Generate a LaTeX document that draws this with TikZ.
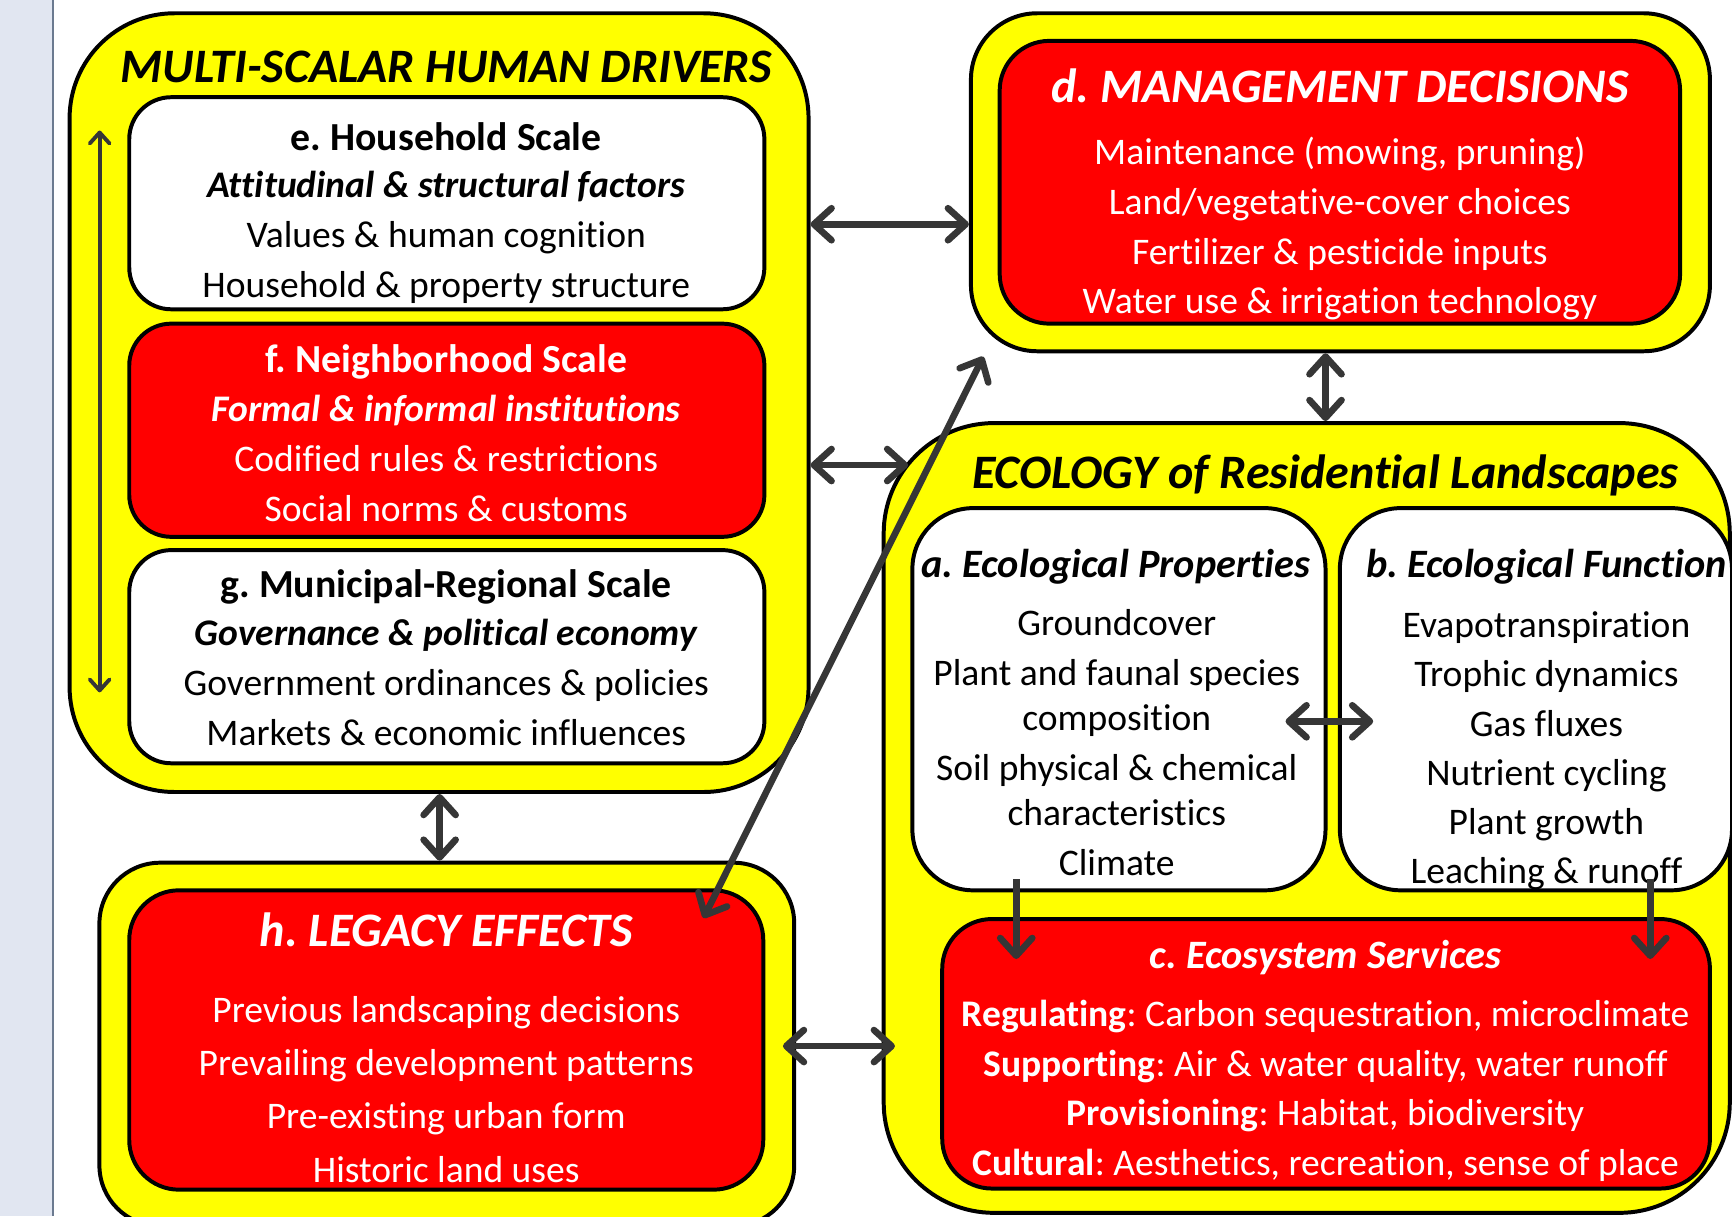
\documentclass[tikz,border=0pt]{standalone}
\usepackage{fontspec}
\setmainfont{Carlito}[Ligatures=NoCommon]
\usetikzlibrary{arrows.meta}
\definecolor{strip}{HTML}{E1E6F1}
\definecolor{stripline}{HTML}{6B7A90}
\definecolor{ylw}{HTML}{FFFF00}
\definecolor{rd}{HTML}{FF0000}
\definecolor{arr}{HTML}{363636}
\frenchspacing
\begin{document}
\frenchspacing
\begin{tikzpicture}[x=1pt,y=-1pt,
 outerbox/.style={draw=black,line width=3.6pt,fill=ylw,rounded corners=#1,inner sep=0pt},
 whitebox/.style={draw=black,line width=3.6pt,fill=white,rounded corners=#1,inner sep=0pt},
 redbox/.style={draw=black,line width=3.6pt,fill=rd,rounded corners=#1,inner sep=0pt},
 body/.style={align=center,font=\fontsize{34}{45}\selectfont,inner sep=0pt},
 ttl/.style={align=center,font=\fontsize{#1}{#1}\selectfont\bfseries\itshape,inner sep=0pt},
 hd/.style={font=\fontsize{36}{36}\selectfont\bfseries},
 dbl/.style={draw=arr,line width=6pt,{Straight Barb[length=16pt,width=29pt,round]}-{Straight Barb[length=16pt,width=29pt,round]}},
 single/.style={draw=arr,line width=6pt,-{Straight Barb[length=16pt,width=29pt,round]}},
 thin/.style={draw=arr,line width=3.5pt,{Straight Barb[length=10pt,width=18pt,round]}-{Straight Barb[length=10pt,width=18pt,round]}},
]
\useasboundingbox (0,0) rectangle (1568,1101);
\fill[strip] (0,0) rectangle (48,1101);
\draw[stripline,line width=1.5pt] (48,0) -- (48,1101);

% outer containers
\node[outerbox=95pt,minimum width=669pt,minimum height=705pt] (multi) at (397.5,364.5) {};
\node[outerbox=55pt,minimum width=629pt,minimum height=329pt] (legacy) at (404.5,945.5) {};
\node[outerbox=60pt,minimum width=669pt,minimum height=306pt] (mgmt) at (1213.5,165) {};
\node[outerbox=100pt,minimum width=766pt,minimum height=715pt] (eco) at (1183,740.5) {};

% inner boxes
\node[whitebox=38pt,minimum width=575pt,minimum height=192pt] (e) at (404.5,184) {};
\node[redbox=38pt,minimum width=575pt,minimum height=193pt] (f) at (404.5,389.5) {};
\node[whitebox=38pt,minimum width=575pt,minimum height=193pt] (g) at (404.5,594.5) {};
\node[redbox=45pt,minimum width=574pt,minimum height=271pt] (h) at (404,941.5) {};
\node[redbox=45pt,minimum width=616pt,minimum height=256pt] (d) at (1213,165) {};
\node[whitebox=55pt,minimum width=374pt,minimum height=346pt] (a) at (1013,633) {};
\node[whitebox=55pt,minimum width=355pt,minimum height=346pt] (b) at (1390.5,633) {};
\node[redbox=45pt,minimum width=695pt,minimum height=244pt] (c) at (1200.5,954) {};

% texts
\node[ttl=43.5] (multititle) at (404,61) {MULTI-SCALAR HUMAN DRIVERS};
\node[hd] (etitle) at (404,124) {e. Household Scale};
\node[body] (etext) at (404,215) {\textbf{\textit{Attitudinal \& structural factors}}\\Values \& human cognition\\Household \& property structure};
\node[hd,text=white] (ftitle) at (404,328) {f. Neighborhood Scale};
\node[body,text=white] (ftext) at (404,415) {\textbf{\textit{Formal \& informal institutions}}\\Codified rules \& restrictions\\Social norms \& customs};
\node[hd] (gtitle) at (404,531) {g. Municipal-Regional Scale};
\node[body] (gtext) at (404,618) {\textbf{\textit{Governance \& political economy}}\\Government ordinances \& policies\\Markets \& economic influences};
\node[ttl=43.5,text=white] (htitle) at (404,842) {h. LEGACY EFFECTS};
\node[body,text=white,font=\fontsize{34}{48.3}\selectfont] (htext) at (404,986) {Previous landscaping decisions\\Prevailing development patterns\\Pre-existing urban form\\Historic land uses};
\node[ttl=43.5,text=white] (dtitle) at (1213,78) {d. MANAGEMENT DECISIONS};
\node[body,text=white] (dtext) at (1213,207) {Maintenance (mowing, pruning)\\Land/vegetative-cover choices\\Fertilizer \& pesticide inputs\\Water use \& irrigation technology};
\node[ttl=43.5] (ecotitle) at (1200,430) {ECOLOGY of Residential Landscapes};
\node[ttl=36.5] (atitle) at (1010,513) {a. Ecological Properties};
\node[body,font=\fontsize{34}{41}\selectfont] (atext) at (1011,672.5) {Groundcover\\[4pt]Plant and faunal species\\composition\\[4pt]Soil physical \& chemical\\characteristics\\[4pt]Climate};
\node[ttl=36.5] (btitle) at (1400,513) {b. Ecological Function};
\node[body,font=\fontsize{34}{44.6}\selectfont] (btext) at (1400,680) {Evapotranspiration\\Trophic dynamics\\Gas fluxes\\Nutrient cycling\\Plant growth\\Leaching \& runoff};
\node[ttl=36.5,text=white] (ctitle) at (1200,867) {c. Ecosystem Services};
\node[body,text=white] (ctext) at (1200,987.5) {\textbf{Regulating}: Carbon sequestration, microclimate\\\textbf{Supporting}: Air \& water quality, water runoff\\\textbf{Provisioning}: Habitat, biodiversity\\\textbf{Cultural}: Aesthetics, recreation, sense of place};

% connectors
\draw[thin] ([shift={(29pt,-108pt)}]multi.north west) -- ([shift={(29pt,92pt)}]multi.south west);
\draw[dbl] (multi.east |- 0,203) -- (mgmt.west |- 0,203);
\draw[dbl] (multi.east |- 0,421) -- ([xshift=24pt]eco.west |- 0,421);
\draw[dbl] (mgmt.south -| 1200,0) -- (eco.north -| 1200,0);
\draw[dbl] (multi.south -| 398,0) -- (legacy.north -| 398,0);
\draw[dbl] ([xshift=-12pt]legacy.east |- 0,947) -- ([xshift=12pt]eco.west |- 0,947);
\draw[dbl] ([xshift=-38pt]a.east |- 0,653) -- ([xshift=32pt]b.west |- 0,653);
\draw[single] ([yshift=12pt]a.south -| 920,0) -- ([yshift=-38pt]c.north -| 920,0);
\draw[single] ([yshift=12pt]b.south -| 1494,0) -- ([yshift=-38pt]c.north -| 1494,0);
\draw[dbl] ([shift={(13pt,-3pt)}]mgmt.south west) -- ([shift={(-56pt,-27pt)}]h.north east);
\end{tikzpicture}
\end{document}
